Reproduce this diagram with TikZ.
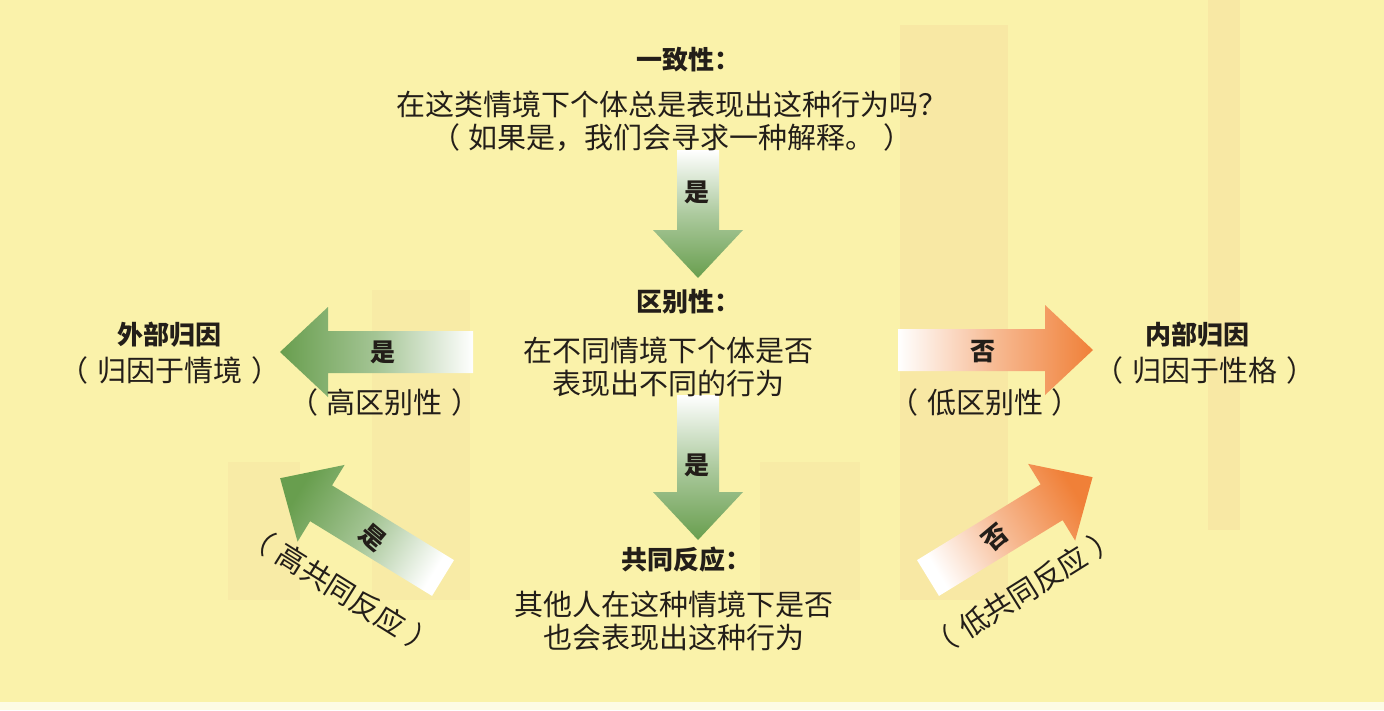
\documentclass[tikz,border=0pt]{standalone}
\usepackage{fontspec}
\setmainfont{Noto Sans CJK SC}
\definecolor{bgyellow}{RGB}{250,242,170}
\definecolor{ghost}{RGB}{246,222,158}
\definecolor{arrowgreen}{RGB}{104,158,78}
\definecolor{arroworange}{RGB}{240,128,56}
\definecolor{inkdark}{RGB}{35,30,25}
\newcommand{\lp}{（\hspace{9pt}}
\newcommand{\rp}{\hspace{9pt}）}
\begin{document}
\begin{tikzpicture}[x=1pt,y=-1pt,
title/.style={
% bold headings
font=\fontsize{26}{30}\selectfont\bfseries,
text=inkdark,
inner sep=0pt
},
body/.style={
font=\fontsize{29}{33}\selectfont,
text=inkdark,
align=center,
inner sep=0pt
},
tag/.style={font=\fontsize{25}{30}\selectfont\bfseries,text=inkdark,inner sep=0pt},
greendown/.style={top color=white,bottom color=arrowgreen,middle color=arrowgreen!55!white},
greenleft/.style={left color=arrowgreen,right color=white,middle color=arrowgreen!60!white},
greendiag/.style={top color=arrowgreen,bottom color=white,middle color=arrowgreen!60!white,shading angle=58.5},
orangeright/.style={left color=white,right color=arroworange,middle color=arroworange!55!white},
orangediag/.style={top color=arroworange,bottom color=white,middle color=arroworange!55!white,shading angle=-58.5},
pics/fatarrow/.style 2 args={code={
\path[#2] (0,-21) -- (#1-48,-21) -- (#1-48,-45) -- (#1,0) -- (#1-48,45) -- (#1-48,21) -- (0,21) -- cycle;
}}
]
\useasboundingbox (0,0) rectangle (1384,710);
\fill[bgyellow] (0,0) rectangle (1384,710);
\fill[white,opacity=0.7] (0,702) rectangle (1384,710);
% faint bars in the paper
\fill[ghost,opacity=0.45] (900,25) rectangle (1008,600);
\fill[ghost,opacity=0.45] (1208,0) rectangle (1240,530);
\fill[ghost,opacity=0.3] (372,290) rectangle (470,600);
\fill[ghost,opacity=0.3] (228,462) rectangle (300,600);
\fill[ghost,opacity=0.3] (760,462) rectangle (860,600);

% arrows
\pic[rotate=-90] at (698,150) {fatarrow={128}{greendown}};
\pic[rotate=-90] at (698,395) {fatarrow={145}{greendown}};
\pic[rotate=180] at (473,352) {fatarrow={193}{greenleft}};
\pic at (898,350) {fatarrow={195}{orangeright}};
\pic[rotate=148.5] at (443,578) {fatarrow={191}{greendiag}};
\pic[rotate=31.5] at (928,578) {fatarrow={193}{orangediag}};

% questions
\node[title] (cons) at (688,60) {一致性：};
\node[body] (consq) at (672,121) {在这类情境下个体总是表现出这种行为吗？\\\lp 如果是，我们会寻求一种解释。\rp};
\node[title] (dist) at (688,302) {区别性：};
\node[body] (distq) at (668,367) {在不同情境下个体是否\\表现出不同的行为};
\node[title] (cnsn) at (686,560) {共同反应：};
\node[body] (cnsnq) at (674,621) {其他人在这种情境下是否\\也会表现出这种行为};

% outcomes
\node[title] (ext) at (169,335) {外部归因};
\node[body] (extn) at (170,370) {\lp 归因于情境\rp};
\node[title] (int) at (1197,335) {内部归因};
\node[body] (intn) at (1205,370) {\lp 归因于性格\rp};

% arrow labels
\node[tag] (yes1) at (697,192) {是};
\node[tag] (yes2) at (697,465) {是};
\node[tag] (yes3) at (383,352) {是};
\node[body] (highdist) at (385,402) {\lp 高区别性\rp};
\node[tag] (no3) at (983,352) {否};
\node[body] (lowdist) at (985,402) {\lp 低区别性\rp};
\node[tag,rotate=-40] (yes4) at (373,538) {是};
\node[body,rotate=-32] (highcnsn) at (341,590) {\lp 高共同反应\rp};
\node[tag,rotate=40] (no4) at (995,538) {否};
\node[body,rotate=32] (lowcnsn) at (1023,592) {\lp 低共同反应\rp};
\end{tikzpicture}
\end{document}
